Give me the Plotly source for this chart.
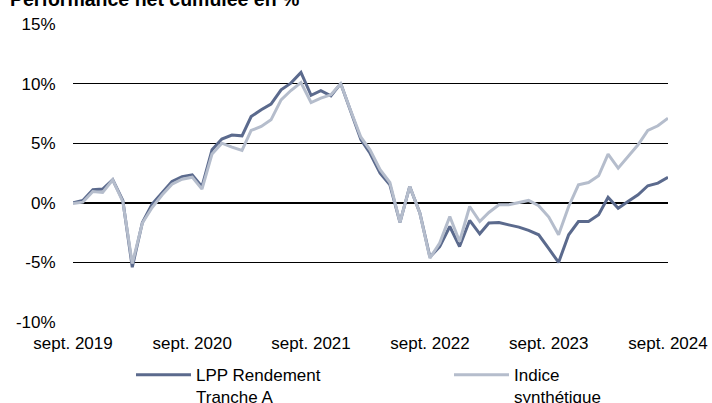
import plotly.graph_objects as go
import pandas as pd

months = pd.date_range("2019-09-01", "2024-09-01", freq="MS")

lpp_rendement = [
    0.0, 0.2, 1.09, 1.15, 1.93, 0.2, -5.4, -1.65, -0.1, 0.87, 1.79, 2.2,
    2.35, 1.35, 4.45, 5.35, 5.68, 5.62, 7.24, 7.8, 8.28, 9.48, 10.04, 10.93,
    9.02, 9.4, 8.98, 10.0, 7.7, 5.3, 4.16, 2.49, 1.51, -1.65, 1.37, -0.85,
    -4.55, -3.67, -1.99, -3.67, -1.48, -2.6, -1.7, -1.65, -1.85, -2.04, -2.32, -2.68,
    -3.85, -5.0, -2.68, -1.57, -1.57, -1.0, 0.47, -0.45, 0.11, 0.67, 1.43, 1.65,
    2.15,
]

indice_synthetique = [
    -0.05, 0.05, 0.95, 0.87, 1.93, 0.1, -5.1, -1.7, -0.4, 0.67, 1.56, 1.98,
    2.15, 1.15, 4.1, 5.0, 4.67, 4.39, 6.07, 6.4, 6.96, 8.64, 9.42, 10.09,
    8.41, 8.78, 9.06, 10.0, 7.7, 5.5, 4.45, 2.77, 1.7, -1.65, 1.37, -0.85,
    -4.64, -3.38, -1.15, -3.25, -0.31, -1.57, -0.81, -0.17, -0.17, 0.03, 0.2, -0.25,
    -1.2, -2.68, -0.31, 1.51, 1.7, 2.27, 4.08, 2.91, 3.88, 4.87, 6.07, 6.46,
    7.1,
]

tick_dates = ["2019-09-01", "2020-09-01", "2021-09-01", "2022-09-01", "2023-09-01", "2024-09-01"]
tick_labels = ["sept. 2019", "sept. 2020", "sept. 2021", "sept. 2022", "sept. 2023", "sept. 2024"]
y_ticks = [-10, -5, 0, 5, 10, 15]
y_labels = ["-10%", "-5%", "0%", "5%", "10%", "15%"]

series_names = ["LPP Rendement<br>Tranche A", "Indice<br>synthétique"]
colors = ["#5b6a8d", "#b5bdcc"]

FONT = "Liberation Sans, Arial, sans-serif"
FS = 17

fig = go.Figure()
fig.add_trace(go.Scatter(x=months, y=lpp_rendement, mode="lines", name=series_names[0],
                         legendwidth=248,
                         line=dict(color=colors[0], width=3)))
fig.add_trace(go.Scatter(x=months, y=indice_synthetique, mode="lines", name=series_names[1],
                         line=dict(color=colors[1], width=3)))

xrange = [tick_dates[0], tick_dates[-1]]

fig.update_layout(
    width=712, height=403,
    margin=dict(l=73, r=44, t=24, b=81, autoexpand=False),
    paper_bgcolor="white", plot_bgcolor="white",
    font=dict(family=FONT, size=FS, color="#000000"),
    showlegend=True,
    legend=dict(orientation="h", x=(131 - 73) / 595, xanchor="left", y=-0.118, yanchor="top",
                valign="top", itemwidth=55,
                font=dict(family=FONT, size=FS, color="#000000"),
                tracegroupgap=0),
    xaxis=dict(type="date", range=xrange, tickvals=tick_dates, ticktext=tick_labels,
               showgrid=False, zeroline=False, showline=False,
               ticks="outside", ticklen=6, tickcolor="rgba(0,0,0,0)", tickangle=0,
               tickfont=dict(family=FONT, size=FS, color="#000000")),
    xaxis2=dict(type="date", range=xrange, overlaying="x", anchor="free", position=0.4,
                tickvals=tick_dates, showticklabels=False, showgrid=False, zeroline=False,
                showline=False, ticks="outside", ticklen=5, tickwidth=2, tickcolor="#000000"),
    yaxis=dict(range=[-10, 15], tickvals=y_ticks, ticktext=y_labels,
               showgrid=True, gridcolor="#000000", gridwidth=1,
               zeroline=True, zerolinecolor="#000000", zerolinewidth=2,
               showline=False, ticks="outside", ticklen=13, tickcolor="rgba(0,0,0,0)",
               tickfont=dict(family=FONT, size=FS, color="#000000")),
)

fig.add_annotation(text="<b>Performance net cumulée en %</b>", xref="paper", yref="paper",
                   x=(8 - 73) / 595, y=(322 - 12) / 298, xanchor="left", yanchor="bottom",
                   showarrow=False, font=dict(family=FONT, size=19.5, color="#000000"))

fig.write_html("out.html", config={"displayModeBar": False},
               post_script="document.body.style.margin='0';")
